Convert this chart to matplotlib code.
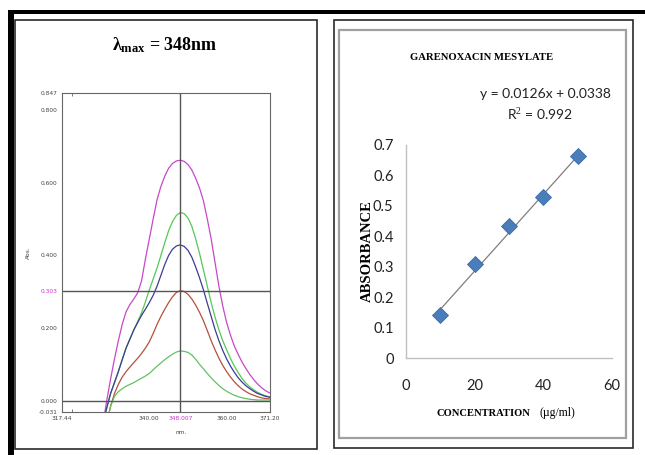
import matplotlib
matplotlib.use("Agg")
import matplotlib.pyplot as plt
from matplotlib.patches import Rectangle

plt.rcParams['mathtext.fontset'] = 'custom'
plt.rcParams['mathtext.rm'] = 'Liberation Serif'
plt.rcParams['mathtext.bf'] = 'Liberation Serif:bold'

# ---------------- data: UV spectra ----------------
wl = [328, 329, 330, 331, 332, 333, 334, 335, 336, 337, 338, 339, 340, 341, 342, 343,
      344, 345, 346, 347, 348, 349, 350, 351, 352, 353, 354, 355, 356, 357, 358, 359,
      360, 361, 362, 363, 364, 365, 366, 367, 368, 369, 370, 371, 371.2]
abs_50 = [-0.066, 0.0, 0.06, 0.115, 0.165, 0.21, 0.245, 0.265, 0.28, 0.297, 0.33, 0.39,
          0.445, 0.5, 0.553, 0.59, 0.618, 0.64, 0.653, 0.66, 0.662, 0.659, 0.65, 0.635,
          0.612, 0.585, 0.55, 0.50, 0.445, 0.38, 0.315, 0.26, 0.215, 0.18, 0.15, 0.127,
          0.106, 0.088, 0.072, 0.058, 0.046, 0.036, 0.028, 0.022, 0.021]
abs_40 = [-0.06, -0.02, 0.02, 0.05, 0.08, 0.113, 0.145, 0.17, 0.195, 0.218, 0.242, 0.272,
          0.305, 0.335, 0.365, 0.4, 0.435, 0.468, 0.493, 0.51, 0.518, 0.515, 0.503, 0.48,
          0.445, 0.405, 0.36, 0.315, 0.27, 0.23, 0.195, 0.165, 0.14, 0.116, 0.095, 0.077,
          0.061, 0.048, 0.038, 0.03, 0.023, 0.018, 0.014, 0.011, 0.01]
abs_30 = [-0.06, -0.02, 0.02, 0.05, 0.08, 0.113, 0.145, 0.17, 0.195, 0.215, 0.235, 0.252,
          0.27, 0.29, 0.315, 0.345, 0.375, 0.4, 0.417, 0.426, 0.429, 0.425, 0.414, 0.395,
          0.368, 0.338, 0.305, 0.268, 0.232, 0.196, 0.165, 0.138, 0.115, 0.095, 0.078,
          0.063, 0.051, 0.041, 0.033, 0.026, 0.02, 0.016, 0.012, 0.01, 0.009]
abs_20 = [-0.1, -0.06, -0.015, 0.02, 0.045, 0.065, 0.08, 0.093, 0.105, 0.117, 0.13, 0.145,
          0.162, 0.185, 0.21, 0.232, 0.252, 0.27, 0.286, 0.298, 0.303, 0.301, 0.293, 0.28,
          0.263, 0.243, 0.22, 0.193, 0.165, 0.14, 0.117, 0.097, 0.08, 0.065, 0.052, 0.041,
          0.032, 0.025, 0.019, 0.015, 0.011, 0.008, 0.006, 0.005, 0.005]
abs_10 = [-0.1, -0.06, -0.015, 0.012, 0.025, 0.033, 0.04, 0.045, 0.05, 0.056, 0.062, 0.068,
          0.075, 0.085, 0.095, 0.104, 0.113, 0.121, 0.128, 0.134, 0.137, 0.136, 0.133, 0.126,
          0.114, 0.1, 0.088, 0.075, 0.063, 0.052, 0.042, 0.033, 0.026, 0.02, 0.015, 0.011,
          0.008, 0.006, 0.004, 0.003, 0.002, 0.002, 0.002, 0.002, 0.002]
spec_colors = ['#c848c8', '#55c855', '#3c3c96', '#b4503c', '#64c064']

lam_max = 348.007
abs_cursor = 0.303
x_tick_vals = [317.44, 340.00, 348.007, 360.00, 371.20]
x_tick_labels = ['317.44', '340.00', '348.007', '360.00', '371.20']
y_tick_vals = [-0.031, 0.000, 0.200, 0.303, 0.400, 0.600, 0.800, 0.847]
y_tick_labels = ['-0.031', '0.000', '0.200', '0.303', '0.400', '0.600', '0.800', '0.847']

# ---------------- data: calibration ----------------
conc = [10, 20, 30, 40, 50]
absorb = [0.14, 0.31, 0.435, 0.53, 0.665]
slope = 0.0126
intercept = 0.0338
r2 = 0.992
cal_xticks = [0, 20, 40, 60]
cal_yticks = [0, 0.1, 0.2, 0.3, 0.4, 0.5, 0.6, 0.7]

W, H = 645, 455
fig = plt.figure(figsize=(W / 100, H / 100), dpi=100)
fig.patch.set_facecolor('white')

def fx(x):
    return x / W

def fy(y):
    return 1 - y / H

def rect(x0, y0, x1, y1, **kw):
    fig.add_artist(Rectangle((fx(x0), fy(y1)), fx(x1) - fx(x0), fy(y0) - fy(y1),
                             transform=fig.transFigure, **kw))

# frames
rect(8, 10, 645, 14, facecolor='black', edgecolor='none')
rect(8, 10, 14, 455, facecolor='black', edgecolor='none')
rect(14.5, 20, 317, 449, facecolor='none', edgecolor='#2a2a2a', lw=1.2)
rect(334, 20, 633, 448, facecolor='none', edgecolor='#2a2a2a', lw=1.2)
rect(339, 30, 626, 438, facecolor='none', edgecolor='#a0a0a0', lw=1.6)

# ---------------- left: spectra ----------------
ax1 = fig.add_axes([fx(62), fy(412), 208 / W, 319 / H])
for vals, c in zip([abs_50, abs_40, abs_30, abs_20, abs_10], spec_colors):
    ax1.plot(wl, vals, color=c, lw=0.9)
ax1.set_xlim(x_tick_vals[0], x_tick_vals[-1])
ax1.set_ylim(y_tick_vals[0], y_tick_vals[-1])
ax1.axhline(0, color='#555555', lw=1.0)
ax1.axhline(abs_cursor, color='#555555', lw=1.0)
ax1.axvline(lam_max, color='#555555', lw=1.0)
for s in ax1.spines.values():
    s.set_color('#666666')
    s.set_linewidth(0.8)
ax1.set_xticks(x_tick_vals)
ax1.set_xticklabels(x_tick_labels)
ax1.set_yticks(y_tick_vals)
ax1.set_yticklabels(y_tick_labels)
ax1.tick_params(axis='both', which='major', length=0, labelsize=4.2, colors='#444444', pad=3)
ax1.set_xticks([320, 340, 360], minor=True)
ax1.set_yticks([0.2, 0.4, 0.6, 0.8], minor=True)
ax1.tick_params(axis='both', which='minor', direction='in', length=2.5, width=0.6,
                color='#666666', top=True, right=True)
for lbl in ax1.get_xticklabels():
    if lbl.get_text() == '348.007':
        lbl.set_color('#cc33cc')
for lbl in ax1.get_yticklabels():
    if lbl.get_text() == '0.303':
        lbl.set_color('#cc33cc')
fig.text(fx(28), fy(253), 'Abs.', rotation=90, fontsize=4.2, color='#444444',
         ha='center', va='center')
fig.text(fx(181), fy(433), 'nm.', fontsize=4.2, color='#444444', ha='center', va='center')
fig.text(fx(165), fy(45), r'$\mathbf{\lambda_{max}}$ = 348nm', fontsize=13,
         family='Liberation Serif', weight='bold', ha='center', va='center')

# ---------------- right: calibration ----------------
ax2 = fig.add_axes([fx(406), fy(358), (612 - 406) / W, (358 - 145) / H])
xs = [conc[0], conc[-1]]
ax2.plot(xs, [slope * x + intercept for x in xs], color='#7f7f7f', lw=0.9, zorder=2)
ax2.plot(conc, absorb, linestyle='none', marker='D', markersize=8.2,
         color='#4a7ebb', markeredgecolor='#3b6aa8', markeredgewidth=0.6, zorder=3)
ax2.set_xlim(0, 60)
ax2.set_ylim(0, 0.7)
ax2.set_xticks(cal_xticks)
ax2.set_xticklabels([str(v) for v in cal_xticks])
ax2.set_yticks(cal_yticks)
ax2.set_yticklabels(['0' if v == 0 else f'{v:.1f}' for v in cal_yticks])
for k in ['top', 'right']:
    ax2.spines[k].set_visible(False)
for k in ['left', 'bottom']:
    ax2.spines[k].set_color('#c0c0c0')
    ax2.spines[k].set_linewidth(1.0)
ax2.tick_params(axis='both', length=0, labelsize=10.5, colors='#222222')
ax2.tick_params(axis='y', pad=9)
ax2.tick_params(axis='x', pad=15)
for lbl in ax2.get_xticklabels() + ax2.get_yticklabels():
    lbl.set_family('Lato')

fig.text(fx(482), fy(57), 'GARENOXACIN MESYLATE', fontsize=7.7, family='Liberation Serif',
         weight='bold', ha='center', va='center')
fig.text(fx(545), fy(94), f'y = {slope}x + {intercept}', fontsize=10, family='Lato',
         ha='center', va='center', color='#222222')
fig.text(fx(540), fy(114), f'R$^2$ = {r2}', fontsize=10, family='Lato',
         ha='center', va='center', color='#222222')
fig.text(fx(367), fy(251), 'ABSORBANCE', rotation=90, fontsize=10.5,
         family='Liberation Serif', weight='bold', ha='center', va='center')
fig.text(fx(483), fy(413), 'CONCENTRATION', fontsize=7.6, family='Liberation Serif',
         weight='bold', ha='center', va='center')
fig.text(fx(557), fy(413), '(µg/ml)', fontsize=8.5, family='Liberation Serif',
         ha='center', va='center')

fig.savefig('out.png', dpi=100)
